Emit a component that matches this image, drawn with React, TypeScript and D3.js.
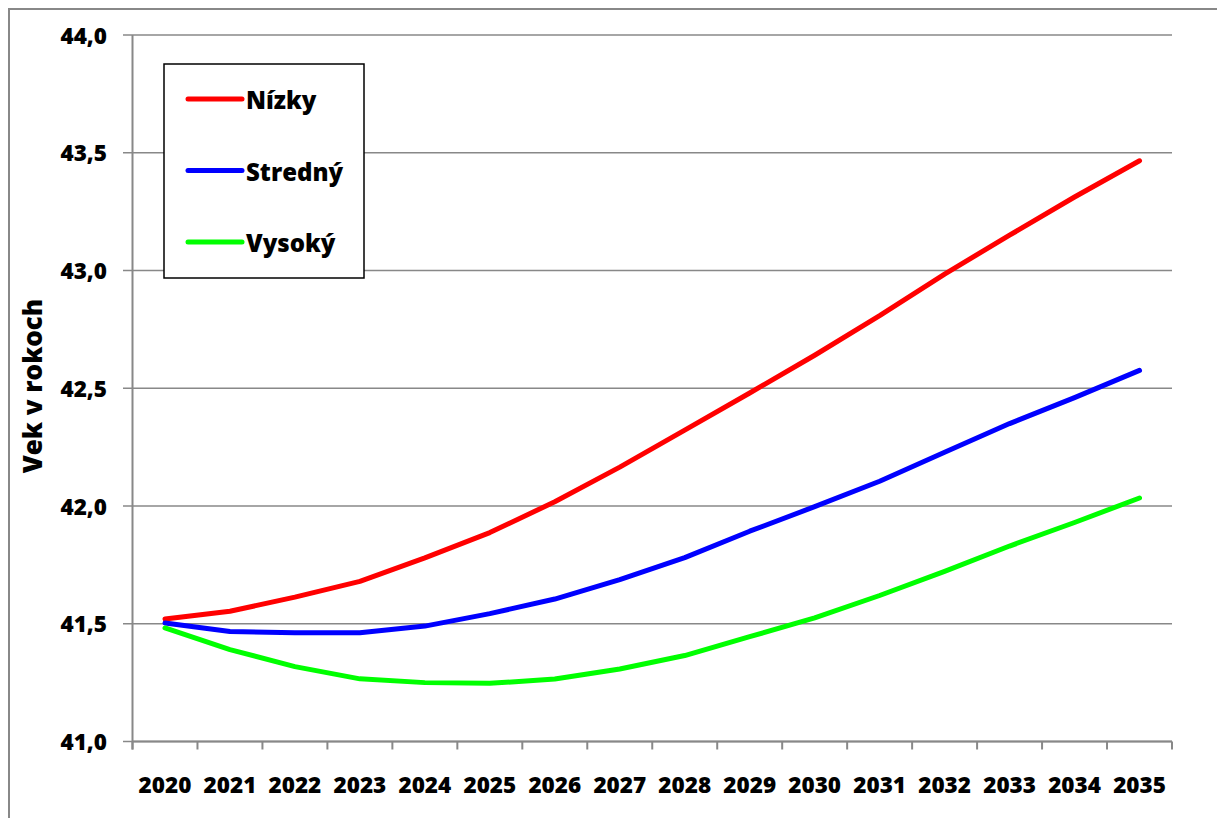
import React from "react";
import * as d3 from "d3";

const years = ["2020","2021","2022","2023","2024","2025","2026","2027","2028","2029","2030","2031","2032","2033","2034","2035"];
const nizky = [41.52,41.553,41.613,41.68,41.78,41.887,42.018,42.165,42.322,42.48,42.64,42.808,42.985,43.15,43.312,43.466];
const stredny = [41.503,41.467,41.462,41.462,41.49,41.543,41.605,41.687,41.781,41.893,41.997,42.105,42.228,42.35,42.46,42.576];
const vysoky = [41.482,41.39,41.318,41.266,41.25,41.247,41.265,41.308,41.365,41.445,41.525,41.62,41.722,41.83,41.93,42.034];
const yTicks = [41.0,41.5,42.0,42.5,43.0,43.5,44.0];
const seriesNames = ["Nízky","Stredný","Vysoký"];
const seriesColors = ["#ff0000","#0000ff","#00ff00"];
const yTitle = "Vek v rokoch";

const FONT = "'Open Sans', sans-serif";

export default function App() {
  const left = 132.5, right = 1172, top = 35, bottom = 741.5;
  const x = d3.scaleBand<string>().domain(years).range([left, right]).padding(0);
  const y = d3.scaleLinear().domain([41, 44]).range([bottom, top]);
  const cx = (i: number) => (x(years[i]) as number) + x.bandwidth() / 2;
  const line = d3.line<number>().x((_, i) => cx(i)).y((v) => y(v));
  const series = [nizky, stredny, vysoky];
  const fmt = (v: number) => v.toFixed(1).replace(".", ",");
  const xTickPos = years.map((yr) => x(yr) as number).concat([right]);

  return (
    <svg width={1217} height={818} style={{ position: "absolute", left: 0, top: 0 }} fontFamily={FONT}>
      <rect x={0} y={0} width={1217} height={818} fill="#fff" />
      <rect x={9} y={9} width={1230} height={830} fill="none" stroke="#888" strokeWidth={2} />
      {yTicks.map((t) => (
        <g key={t}>
          <line x1={123} x2={right} y1={y(t)} y2={y(t)} stroke="#888" strokeWidth={1.5} />
          <text x={107} y={y(t) + 8.5} textAnchor="end" fontSize={22.5} fontWeight={800} fill="#000">{fmt(t)}</text>
        </g>
      ))}
      <line x1={left} x2={left} y1={top} y2={bottom + 8} stroke="#888" strokeWidth={2} />
      <line x1={left} x2={right} y1={bottom} y2={bottom} stroke="#888" strokeWidth={2} />
      {xTickPos.map((p, i) => (
        <line key={i} x1={p} x2={p} y1={bottom} y2={bottom + 8} stroke="#888" strokeWidth={2} />
      ))}
      {years.map((yr, i) => (
        <text key={yr} x={cx(i)} y={792.5} textAnchor="middle" fontSize={22.5} fontWeight={800} fill="#000">{yr}</text>
      ))}
      <text transform={`translate(42,386) rotate(-90)`} textAnchor="middle" fontSize={26} fontWeight={800} fill="#000">{yTitle}</text>
      {series.map((s, k) => (
        <path key={k} d={line(s) as string} fill="none" stroke={seriesColors[k]} strokeWidth={5} strokeLinecap="round" strokeLinejoin="round" />
      ))}
      <rect x={164} y={64} width={200} height={214} fill="#fff" stroke="#000" strokeWidth={1.5} />
      {seriesNames.map((n, k) => {
        const ly = 99 + k * 71.5;
        return (
          <g key={n}>
            <line x1={188} x2={242} y1={ly} y2={ly} stroke={seriesColors[k]} strokeWidth={5} strokeLinecap="round" />
            <text x={246} y={ly + 10} fontSize={24} fontWeight={800} fill="#000">{n}</text>
          </g>
        );
      })}
    </svg>
  );
}
